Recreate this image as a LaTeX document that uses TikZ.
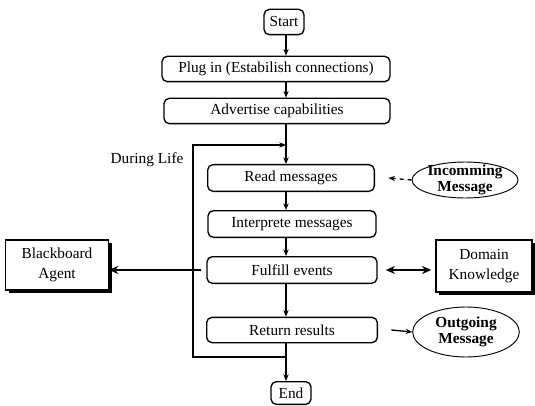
\documentclass[tikz,border=0pt]{standalone}
\usepackage{fontspec}
\setmainfont{Liberation Serif}
\usetikzlibrary{arrows.meta,shapes.geometric,shadows}

\begin{document}
\begin{tikzpicture}[x=0.75pt,y=-0.75pt]
        \tikzset{proc/.style={draw,rounded corners=4pt,line width=1pt,minimum height=19pt,inner sep=2pt,font=\fontsize{11.5}{13}\selectfont},
                 ext/.style={draw,line width=1pt,fill=white,align=center,font=\fontsize{11.5}{15}\selectfont,
                             drop shadow={fill=black,opacity=1,shadow xshift=2.5pt,shadow yshift=-2pt}},
                 msg/.style={ellipse,draw,line width=0.7pt,inner sep=0pt},
                 msgtext/.style={align=center,inner sep=0pt,font=\fontsize{11.5}{11.5}\selectfont\bfseries},
                 arr/.style={-{Stealth[length=5pt,width=4pt]},line width=1pt},
                 fat/.style={line width=2.2pt}}
        \useasboundingbox (0,0) rectangle (535,406);

        \coordinate (spine) at (286,0);
        \node[proc,minimum width=30pt] (start) at (284,22) {Start};
        \node[proc,minimum width=171pt] (plug) at (276,69) {Plug in (Estabilish connections)};
        \node[proc,minimum width=169.5pt] (advert) at (277,111) {Advertise capabilities};
        \node[proc,minimum width=125pt,minimum height=20pt] (read) at (291,178) {Read messages};
        \node[proc,minimum width=126pt,minimum height=20pt] (interp) at (292,224) {Interprete messages};
        \node[proc,minimum width=127.5pt,minimum height=20pt] (fulfill) at (292,270) {Fulfill events};
        \node[proc,minimum width=128pt] (ret) at (292,330) {Return results};
        \node[proc,minimum width=30pt,minimum height=17pt] (end) at (291,393) {End};

        \node[ext,minimum width=77pt,minimum height=37.5pt] (bb) at (57,265) {Blackboard\\Agent};
        \node[ext,minimum width=72pt,minimum height=39pt] (dk) at (484,266) {Domain\\Knowledge};
        \node[msg,minimum width=79.5pt,minimum height=27pt,
              label={[msgtext]center:Incomming\\Message}] (inc) at (465,180) {};
        \node[msg,minimum width=80pt,minimum height=37.5pt,
              label={[msgtext]center:Outgoing\\Message}] (out) at (466,332) {};

        \node[font=\fontsize{11.5}{13}\selectfont] (life) at (147,160) {During Life};

        \coordinate (loopbot) at (193,357);
        \coordinate (looptop) at (193,145);

        \draw[arr] (spine |- start.south) -- (spine |- plug.north);
        \draw[arr] (spine |- plug.south) -- (spine |- advert.north);
        \draw[arr] (spine |- advert.south) -- (spine |- read.north);
        \draw[arr] (spine |- read.south) -- (spine |- interp.north);
        \draw[arr] (spine |- interp.south) -- (spine |- fulfill.north);
        \draw[arr] (spine |- fulfill.south) -- (spine |- ret.north);
        \draw[arr] (spine |- ret.south) -- (spine |- end.north);
        \draw[arr] (spine |- loopbot) -- (loopbot) -- (looptop) -- (spine |- looptop);

        \draw[fat,-{Stealth[length=7pt,width=6pt]}] ([xshift=-4pt]fulfill.west) -- (bb.east |- fulfill.west);
        \draw[fat,{Stealth[length=7pt,width=6pt]}-{Stealth[length=7pt,width=6pt]}] ([xshift=6pt]fulfill.east) -- ([xshift=-3pt]dk.west |- fulfill.east);
        \draw[arr,dashed] (inc.west) -- ([xshift=10pt]read.east);
        \draw[arr] ([xshift=10pt]ret.east) -- (out.west);
    \end{tikzpicture}
\end{document}
